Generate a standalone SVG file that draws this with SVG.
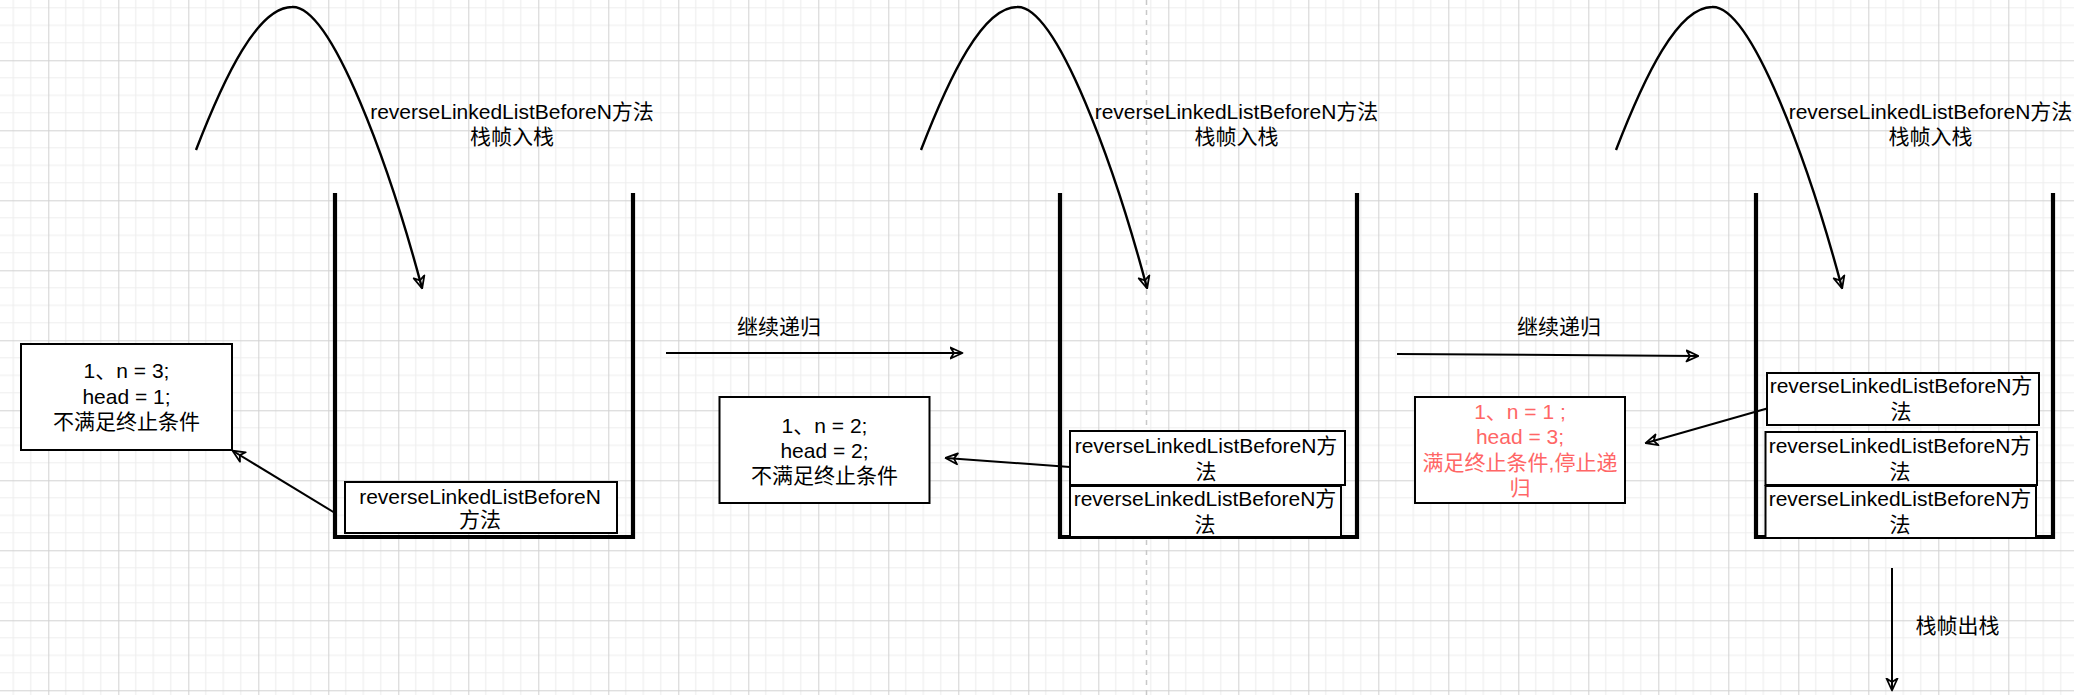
<svg xmlns="http://www.w3.org/2000/svg" width="2074" height="695" viewBox="0 0 2074 695">
<style>
.t{font-family:"Liberation Sans","Noto Sans CJK SC",sans-serif;font-size:21px;text-anchor:middle;fill:#000}
.red{fill:#ff6666}
.box{fill:#fff;stroke:#000;stroke-width:2}
.wall{fill:none;stroke:#000;stroke-width:4.2;stroke-linejoin:miter}
.con{fill:none;stroke:#000;stroke-width:2;marker-end:url(#ah)}
.arc{fill:none;stroke:#000;stroke-width:2.4;marker-end:url(#ah)}
</style>
<defs>
<pattern id="grid" x="48.3" y="60.3" width="70" height="70" patternUnits="userSpaceOnUse">
<path d="M17.5,0V70M35,0V70M52.5,0V70M0,17.5H70M0,35H70M0,52.5H70" stroke="#eeeeee" stroke-width="1.2" fill="none"/>
<path d="M0.5,0V70M0,0.5H70" stroke="#d2d2d2" stroke-width="1" fill="none"/>
</pattern>
<marker id="ah" viewBox="0 0 14 14" refX="12.5" refY="7" markerWidth="14" markerHeight="14" orient="auto" markerUnits="userSpaceOnUse">
<path d="M1,1.5 L13,7 L1,12.5 L4.5,7 Z" fill="none" stroke="#000" stroke-width="1.8" stroke-linejoin="round"/>
</marker>
</defs>
<rect width="2074" height="695" fill="#fff"/>
<rect width="2074" height="695" fill="url(#grid)"/>
<line x1="1146.5" y1="0" x2="1146.5" y2="695" stroke="#c8c8c8" stroke-width="1.5" stroke-dasharray="5 5"/>

<g id="connectors">
<path class="arc" d="M196,150 C225,75 258,7 292,7 C332,5 390,168 422,288"/>
<path class="arc" d="M921,150 C950,75 983,7 1017,7 C1057,5 1115,168 1147,288"/>
<path class="arc" d="M1616,150 C1645,75 1678,7 1712,7 C1752,5 1810,168 1842,288"/>
<path class="con" d="M335,513 L233,451"/>
<path class="con" d="M666,353 L962,353"/>
<path class="con" d="M1070,467 L946,458"/>
<path class="con" d="M1397,354 L1698,356"/>
<path class="con" d="M1767,408.5 L1646,443"/>
<path class="con" d="M1892,568 L1892,690"/>
</g>

<g id="label-push-1"><text class="t" x="512" y="119">reverseLinkedListBeforeN方法</text><text class="t" x="512" y="143.5">栈帧入栈</text></g>
<g id="label-push-2"><text class="t" x="1236.5" y="119">reverseLinkedListBeforeN方法</text><text class="t" x="1236.5" y="143.5">栈帧入栈</text></g>
<g id="label-push-3"><text class="t" x="1930.5" y="119">reverseLinkedListBeforeN方法</text><text class="t" x="1930.5" y="143.5">栈帧入栈</text></g>
<g id="label-recur-1"><text class="t" x="779" y="334">继续递归</text></g>
<g id="label-recur-2"><text class="t" x="1559" y="334">继续递归</text></g>
<g id="label-pop"><text class="t" x="1957.5" y="633">栈帧出栈</text></g>

<g id="note-1">
<rect class="box" x="21" y="344" width="211" height="106"/>
<text class="t" x="126.5" y="377.5">1、n = 3;</text>
<text class="t" x="126.5" y="403.5">head = 1;</text>
<text class="t" x="126.5" y="429">不满足终止条件</text>
</g>
<g id="note-2">
<rect class="box" x="719.5" y="397" width="210" height="106"/>
<text class="t" x="824.5" y="432.5">1、n = 2;</text>
<text class="t" x="824.5" y="457.5">head = 2;</text>
<text class="t" x="824.5" y="482.5">不满足终止条件</text>
</g>
<g id="note-3">
<rect class="box" x="1415" y="397" width="210" height="106"/>
<text class="t red" x="1520" y="418.5">1、n = 1 ;</text>
<text class="t red" x="1520" y="444">head = 3;</text>
<text class="t red" x="1520" y="469.7">满足终止条件,停止递</text>
<text class="t red" x="1520" y="495.4">归</text>
</g>

<g id="stack-1">
<path class="wall" d="M335,193 L335,537 L633,537 L633,193"/>
</g>
<g id="frame-1-1">
<rect class="box" x="345" y="482" width="272" height="51"/>
<text class="t" x="480" y="503.7">reverseLinkedListBeforeN</text>
<text class="t" x="480" y="527">方法</text>
</g>

<g id="stack-2">
<path class="wall" d="M1060,193 L1060,537 L1357,537 L1357,193"/>
</g>
<g id="frame-2-1">
<rect class="box" x="1070" y="431" width="275" height="54"/>
<text class="t" x="1206" y="453.4">reverseLinkedListBeforeN方</text>
<text class="t" x="1206" y="479.3">法</text>
</g>
<g id="frame-2-2">
<rect class="box" x="1070" y="486" width="271" height="51"/>
<text class="t" x="1205" y="506">reverseLinkedListBeforeN方</text>
<text class="t" x="1205" y="531.6">法</text>
</g>

<g id="stack-3">
<path class="wall" d="M1756,193 L1756,537 L2053,537 L2053,193"/>
</g>
<g id="frame-3-1">
<rect class="box" x="1767" y="373" width="272" height="52"/>
<text class="t" x="1901" y="393.2">reverseLinkedListBeforeN方</text>
<text class="t" x="1901" y="418.6">法</text>
</g>
<g id="frame-3-2">
<rect class="box" x="1765.5" y="432" width="271.5" height="53"/>
<text class="t" x="1900" y="453.4">reverseLinkedListBeforeN方</text>
<text class="t" x="1900" y="479">法</text>
</g>
<g id="frame-3-3">
<rect class="box" x="1765.5" y="486" width="270.5" height="52"/>
<text class="t" x="1900" y="506">reverseLinkedListBeforeN方</text>
<text class="t" x="1900" y="531.6">法</text>
</g>
</svg>
